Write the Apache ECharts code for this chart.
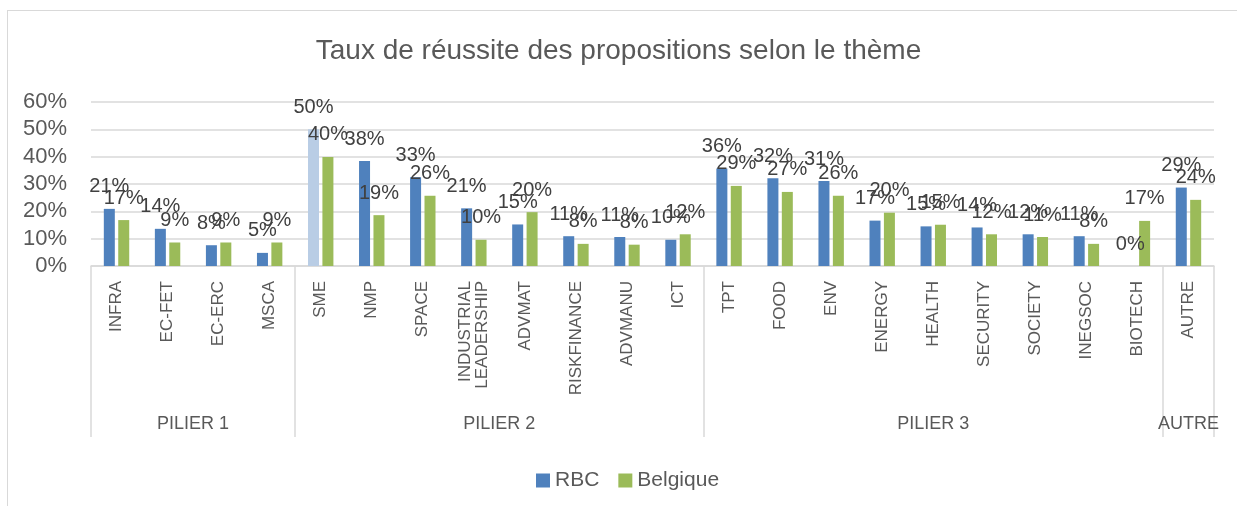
<!DOCTYPE html>
<html>
<head>
<meta charset="utf-8">
<script src="https://cdn.jsdelivr.net/npm/echarts@6/dist/echarts.min.js"></script>
<style>
  html, body { margin: 0; padding: 0; background: #fff; }
  .frame { position: absolute; left: 7px; top: 10px; width: 1300px; height: 600px; border: 1px solid #d9d9d9; }
  #chart { position: absolute; left: 0; top: 0; width: 1237px; height: 506px; }
</style>
</head>
<body>
<div class="frame"></div>
<div id="chart"></div>
<script>
  // themes, grouped by pillar
  const categories = ['INFRA', 'EC-FET', 'EC-ERC', 'MSCA',
    'SME', 'NMP', 'SPACE', 'INDUSTRIAL\nLEADERSHIP', 'ADVMAT', 'RISKFINANCE', 'ADVMANU', 'ICT',
    'TPT', 'FOOD', 'ENV', 'ENERGY', 'HEALTH', 'SECURITY', 'SOCIETY', 'INEGSOC', 'BIOTECH',
    'AUTRE'];
  const groupNames = ['PILIER 1', 'PILIER 2', 'PILIER 3', 'AUTRE'];
  const groupSizes = [4, 8, 9, 1];

  // taux de réussite, en %
  const rbc = [20.9, 13.6, 7.6, 4.8,
    50, 38.4, 32.5, 21.1, 15.2, 10.9, 10.6, 9.6,
    35.7, 32.1, 31.1, 16.6, 14.5, 14.1, 11.6, 10.9, 0,
    28.7];
  const belgique = [16.8, 8.6, 8.6, 8.6,
    39.9, 18.6, 25.7, 9.6, 19.7, 8.1, 7.8, 11.6,
    29.3, 27.1, 25.7, 19.5, 15.1, 11.6, 10.6, 8.1, 16.5,
    24.2];
  const yTicks = [0, 10, 20, 30, 40, 50, 60];

  // separators and centres of the group level
  const bounds = [0];
  groupSizes.forEach(n => bounds.push(bounds[bounds.length - 1] + n));
  const centres = groupSizes.map((n, i) => bounds[i] + n / 2);

  const font = "'Liberation Sans', Arial, sans-serif";
  const txt = '#595959';

  let myChart = echarts.init(document.getElementById('chart'));
  let option = {
    animation: false,
    title: {
      text: 'Taux de réussite des propositions selon le thème',
      left: 'center',
      top: 32,
      textStyle: { fontFamily: font, fontSize: 28, fontWeight: 'normal', color: txt }
    },
    legend: {
      data: ['RBC', 'Belgique'],
      left: 531,
      top: 465,
      itemWidth: 14,
      itemHeight: 14,
      itemGap: 19,
      icon: 'rect',
      textStyle: { fontFamily: font, fontSize: 21, color: txt }
    },
    grid: { left: 91, right: 23, top: 102, bottom: 240, containLabel: false },
    xAxis: [
      {
        type: 'category',
        data: categories,
        axisLine: { lineStyle: { color: '#d9d9d9', width: 1.5 } },
        axisTick: { show: false },
        axisLabel: {
          interval: 0,
          rotate: 90,
          margin: 15,
          fontFamily: font,
          fontSize: 17,
          lineHeight: 17,
          color: txt
        }
      },
      {
        type: 'value',
        min: 0,
        max: categories.length,
        position: 'bottom',
        axisLine: { show: false },
        splitLine: { show: false },
        axisTick: {
          show: true,
          customValues: bounds,
          length: 171,
          lineStyle: { color: '#d9d9d9', width: 1.5 }
        },
        axisLabel: {
          customValues: centres,
          margin: 149,
          fontFamily: font,
          fontSize: 18,
          color: txt,
          formatter: v => groupNames[centres.indexOf(v)] || ''
        }
      }
    ],
    yAxis: {
      type: 'value',
      min: yTicks[0],
      max: yTicks[yTicks.length - 1],
      interval: 10,
      axisLine: { show: false },
      axisTick: { show: false },
      splitLine: { lineStyle: { color: '#d9d9d9', width: 1.5 } },
      axisLabel: {
        margin: 24,
        fontFamily: font,
        fontSize: 22,
        color: txt,
        formatter: '{value}%'
      }
    },
    series: [
      {
        name: 'RBC',
        type: 'bar',
        barWidth: 11,
        barGap: '31%',
        itemStyle: { color: '#4f81bd' },
        data: rbc.map((v, i) => categories[i] === 'SME' ? { value: v, itemStyle: { color: '#b9cde5' } } : v),
        label: {
          show: true,
          position: 'top',
          distance: 12,
          fontFamily: font,
          fontSize: 20,
          color: '#404040',
          formatter: p => Math.round(p.value) + '%'
        }
      },
      {
        name: 'Belgique',
        type: 'bar',
        barWidth: 11,
        itemStyle: { color: '#9bbb59' },
        data: belgique,
        label: {
          show: true,
          position: 'top',
          distance: 12,
          fontFamily: font,
          fontSize: 20,
          color: '#404040',
          formatter: p => Math.round(p.value) + '%'
        }
      }
    ]
  };
  myChart.setOption(option);
</script>
</body>
</html>
